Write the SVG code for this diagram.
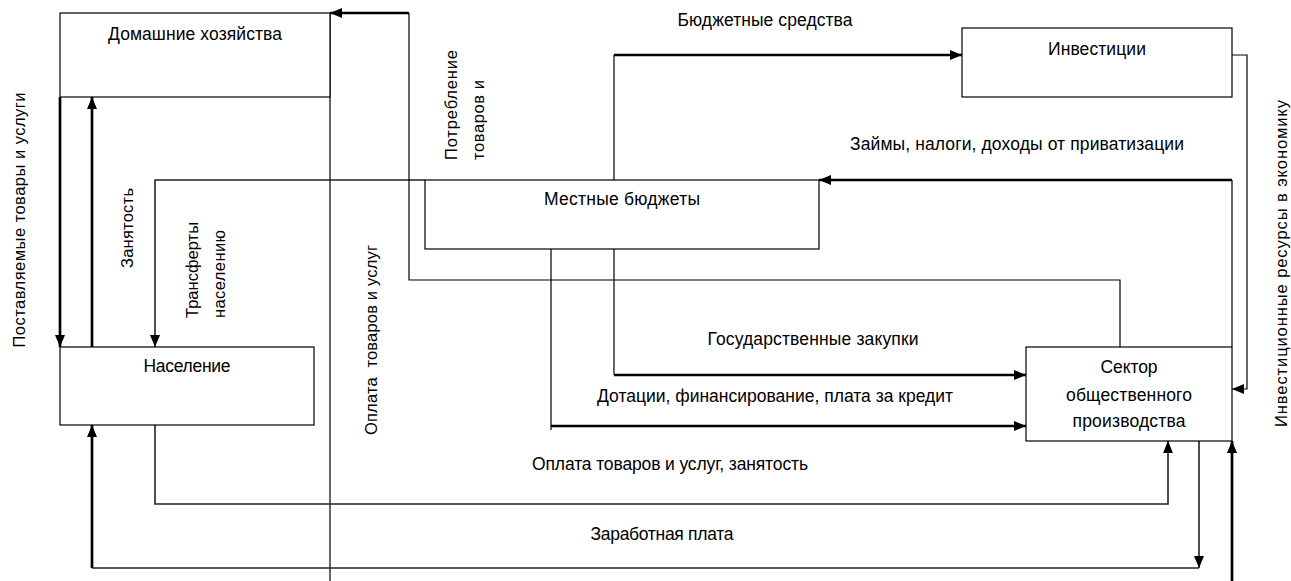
<svg xmlns="http://www.w3.org/2000/svg" width="1291" height="581" viewBox="0 0 1291 581">
<style>
  text { font-family: "Liberation Sans", Arial, sans-serif; font-size: 17.5px; fill: #000; }
  .c { text-anchor: middle; }
  .r { font-size: 16.5px; }
  .box { fill: #fff; stroke: #000; stroke-width: 1.2; }
  .thin { fill: none; stroke: #000; stroke-width: 1.2; }
  .mid { fill: none; stroke: #222; stroke-width: 1.6; }
  .thick { fill: none; stroke: #000; stroke-width: 2.7; }
</style>
<defs>
  <marker id="ah" markerUnits="userSpaceOnUse" markerWidth="12" markerHeight="10" refX="12" refY="5" orient="auto">
    <path d="M0,0 L12,5 L0,10 z" fill="#000"/>
  </marker>
</defs>
<rect width="1291" height="581" fill="#fff"/>

<g id="connectors">
  <path class="thin" d="M330,13 V581"/>
  <path class="thick" d="M60,97 V347" marker-end="url(#ah)"/>
  <path class="thick" d="M92,347 V97" marker-end="url(#ah)"/>
  <path class="mid" d="M425,180 H155 V347" marker-end="url(#ah)"/>
  <path class="thin" d="M1120,347 V280 H409 V13"/>
  <path class="thick" d="M409,13 H330" marker-end="url(#ah)"/>
  <path class="thin" d="M614,180 V55"/>
  <path class="thick" d="M614,55 H962" marker-end="url(#ah)"/>
  <path class="thin" d="M1232,55 H1247 V389 H1232" marker-end="url(#ah)"/>
  <path class="thin" d="M1232,347 V180"/>
  <path class="thick" d="M1232,180 H819" marker-end="url(#ah)"/>
  <path class="thin" d="M614,249 V375"/>
  <path class="thick" d="M614,375 H1026" marker-end="url(#ah)"/>
  <path class="thin" d="M551,249 V430"/>
  <path class="thick" d="M551,426 H1026" marker-end="url(#ah)"/>
  <path class="mid" d="M155,425 V504 H1168 V441" marker-end="url(#ah)"/>
  <path class="mid" d="M1199,441 V568" marker-end="url(#ah)"/>
  <path class="mid" d="M1199,568 H92" stroke="#555"/>
  <path class="thick" d="M92,568 V425" marker-end="url(#ah)"/>
  <path class="thick" d="M1232,581 V441" marker-end="url(#ah)"/>
</g>

<g id="node-households">
  <rect class="box" x="60" y="13" width="270" height="84"/>
  <text class="c" x="195" y="40" textLength="174">Домашние хозяйства</text>
</g>
<g id="node-investments">
  <rect class="box" x="962" y="28" width="270" height="69"/>
  <text class="c" x="1097" y="55" textLength="98">Инвестиции</text>
</g>
<g id="node-local-budgets">
  <rect class="box" x="425" y="180" width="394" height="69"/>
  <text class="c" x="622" y="205" textLength="156">Местные бюджеты</text>
</g>
<g id="node-population">
  <rect class="box" x="60" y="347" width="254" height="78"/>
  <text class="c" x="187" y="372" textLength="87">Население</text>
</g>
<g id="node-public-sector">
  <rect class="box" x="1026" y="347" width="206" height="94"/>
  <text class="c" x="1129" y="373" textLength="57">Сектор</text>
  <text class="c" x="1129" y="401" textLength="126">общественного</text>
  <text class="c" x="1129" y="427" textLength="113">производства</text>
</g>

<g id="labels">
  <text class="c" x="765" y="26" textLength="175">Бюджетные средства</text>
  <text class="c" x="1017" y="150" textLength="334">Займы, налоги, доходы от приватизации</text>
  <text class="c" x="813" y="345" textLength="211">Государственные закупки</text>
  <text class="c" x="775" y="402" textLength="356">Дотации, финансирование, плата за кредит</text>
  <text class="c" x="670" y="470" textLength="276">Оплата товаров и услуг, занятость</text>
  <text class="c" x="662" y="540" textLength="143">Заработная плата</text>
  <text class="c r" transform="translate(25,220) rotate(-90)" textLength="255">Поставляемые товары и услуги</text>
  <text class="c r" transform="translate(133,228) rotate(-90)" textLength="80">Занятость</text>
  <text class="r" transform="translate(198,318) rotate(-90)" textLength="96">Трансферты</text>
  <text class="r" transform="translate(225,318) rotate(-90)" textLength="88">населению</text>
  <text class="r" transform="translate(457,160) rotate(-90)" textLength="110">Потребление</text>
  <text class="r" transform="translate(484,160) rotate(-90)" textLength="80">товаров и</text>
  <text class="r" xml:space="preserve" transform="translate(377,435) rotate(-90)" textLength="190">Оплата  товаров и услуг</text>
  <text class="r" transform="translate(1287,427) rotate(-90)" textLength="327">Инвестиционные ресурсы в экономику</text>
</g>
</svg>
